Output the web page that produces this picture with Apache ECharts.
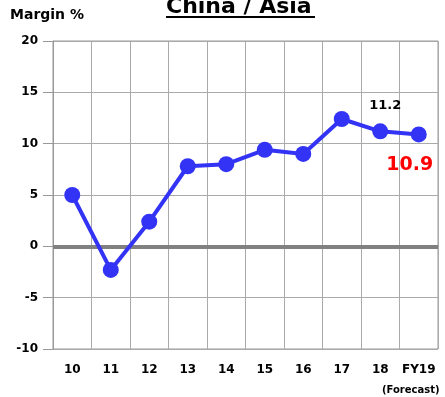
<!DOCTYPE html>
<html>
<head>
<meta charset="utf-8">
<script src="https://cdn.jsdelivr.net/npm/echarts@6/dist/echarts.min.js"></script>
<style>
  html, body { margin: 0; padding: 0; background: #fff; }
  #chart { width: 445px; height: 397px; }
</style>
</head>
<body>
<div id="chart"></div>
<script>
// Fiscal years on the x axis
const years = ['10', '11', '12', '13', '14', '15', '16', '17', '18', 'FY19'];
// Operating margin (%) for China / Asia
const margin = [5.0, -2.3, 2.4, 7.8, 8.0, 9.4, 9.0, 12.4, 11.2, 10.9];
// Y axis range and step
const yMin = -10, yMax = 20, yStep = 5;

const FONT = '"DejaVu Sans", sans-serif';

const chart = echarts.init(document.getElementById('chart'));

const seriesData = margin.map((v, i) => {
  if (i === 8) {
    return {
      value: v,
      label: {
        show: true, position: 'top', offset: [5, -6],
        formatter: (p) => p.value.toFixed(1),
        color: '#000', fontFamily: FONT, fontWeight: 'bold', fontSize: 13
      }
    };
  }
  if (i === 9) {
    return {
      value: v,
      label: {
        show: true, position: 'bottom', offset: [-9, 8],
        formatter: (p) => p.value.toFixed(1),
        color: '#ff0000', fontFamily: FONT, fontWeight: 'bold', fontSize: 19
      }
    };
  }
  return v;
});

chart.setOption({
  animation: false,
  backgroundColor: '#fff',
  grid: {
    left: 53, right: 7, top: 41, bottom: 48,
    show: true, borderColor: '#999', borderWidth: 1, backgroundColor: 'transparent'
  },
  graphic: [
    {
      type: 'text', left: 166, top: -4,
      style: { text: 'China / Asia', font: 'bold 22px ' + FONT, fill: '#000' }
    },
    {
      type: 'rect', shape: { x: 166, y: 16, width: 149, height: 2 },
      style: { fill: '#000' }
    },
    {
      type: 'text', left: 10, top: 8,
      style: { text: 'Margin %', font: 'bold 14px ' + FONT, fill: '#000' }
    },
    {
      type: 'text', left: 382, top: 385,
      style: { text: '(Forecast)', font: 'bold 10px ' + FONT, fill: '#000' }
    }
  ],
  xAxis: {
    type: 'category',
    data: years,
    boundaryGap: true,
    axisLine: { show: true, lineStyle: { color: '#999', width: 1 } },
    axisTick: { show: false },
    splitLine: { show: true, interval: 0, lineStyle: { color: '#aaa', width: 1 } },
    axisLabel: {
      interval: 0,
      color: '#000', fontFamily: FONT, fontWeight: 'bold', fontSize: 12, margin: 15
    }
  },
  yAxis: {
    type: 'value',
    min: yMin, max: yMax, interval: yStep,
    axisLine: { show: true, lineStyle: { color: '#999', width: 1 } },
    axisTick: { show: true, length: 10, lineStyle: { color: '#999' } },
    splitLine: { show: true, lineStyle: { color: '#aaa', width: 1 } },
    axisLabel: {
      color: '#000', fontFamily: FONT, fontWeight: 'bold', fontSize: 12, margin: 15
    }
  },
  series: [{
    type: 'line',
    data: seriesData,
    symbol: 'circle',
    symbolSize: 16,
    lineStyle: { color: '#3333f5', width: 4 },
    itemStyle: { color: '#3333f5' },
    z: 5,
    markLine: {
      silent: true,
      symbol: 'none',
      label: { show: false },
      lineStyle: { color: '#808080', width: 4, type: 'solid' },
      data: [{ yAxis: 0 }],
      z: 3
    }
  }]
});
</script>
</body>
</html>
